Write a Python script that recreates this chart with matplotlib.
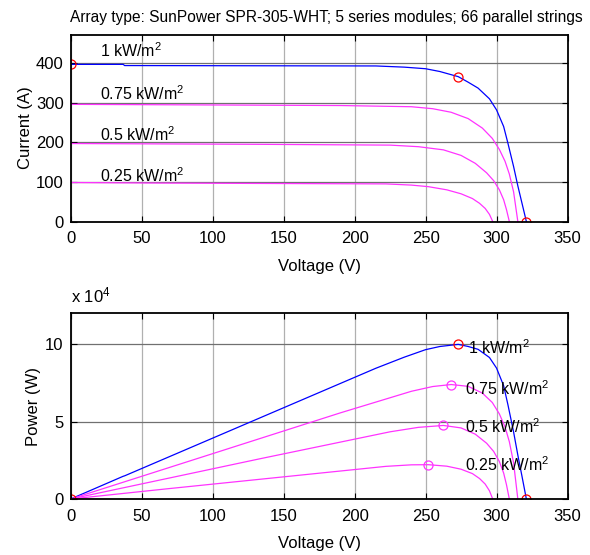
import numpy as np
import matplotlib
matplotlib.use("Agg")
import matplotlib.pyplot as plt

# I-V data (voltage in V, current in A)
v_100 = [0, 37, 38, 215, 235, 250, 260, 273, 280, 287, 295, 300, 305, 308, 312, 315, 318, 321]
i_100 = [397, 397, 394, 393, 390, 386, 379, 366, 352, 337, 310, 282, 240, 198, 139, 90, 45, 0]

v_075 = [0, 190, 240, 255, 268, 280, 290, 297, 302, 306, 309, 312, 315]
i_075 = [296, 293, 290, 285, 276, 260, 236, 210, 182, 152, 120, 75, 0]

v_050 = [0, 133, 225, 245, 262.6, 275, 285, 293, 298, 302, 305, 307, 309]
i_050 = [197, 195, 193, 189, 181, 167, 147, 123, 103, 80, 55, 30, 0]

v_025 = [0, 68, 222, 240, 252, 265, 275, 283, 288, 292, 295, 297.3]
i_025 = [98.5, 97, 95, 92, 88, 80, 70, 58, 46, 33, 18, 0]

labels = ["1 kW/m$^2$", "0.75 kW/m$^2$", "0.5 kW/m$^2$", "0.25 kW/m$^2$"]

# maximum power points (V, I), short circuit current and open circuit voltage (1 kW/m2)
mpp_v = [273, 268, 262.6, 252]
mpp_i = [366, 276, 181, 88]
voc_1kw = 321
isc_1kw = 397

# label anchors
iv_label_v = [20.5, 20.5, 20.5, 20.5]
iv_label_i = [431, 323, 219, 115]
pv_label_v = [280, 278, 278, 278]
pv_label_p = [0.98e5, 0.715e5, 0.466e5, 0.219e5]

plt.rcParams['font.family'] = ['Liberation Sans', 'DejaVu Sans']
plt.rcParams['mathtext.default'] = 'regular'
plt.rcParams['font.size'] = 12

BLUE = "#0000ff"
MAG = "#ff33ff"

fig = plt.figure(figsize=(5.9, 5.55), dpi=100)
ax1 = fig.add_axes([0.1198, 0.6009, 0.8421, 0.3366])
ax2 = fig.add_axes([0.1198, 0.1009, 0.8421, 0.3346])

curves = [(v_100, i_100, BLUE), (v_075, i_075, MAG), (v_050, i_050, MAG), (v_025, i_025, MAG)]

for v, i, c in curves:
    ax1.plot(v, i, color=c, lw=0.9)
    ax2.plot(v, np.array(v) * np.array(i), color=c, lw=0.9)

circ = dict(ls="none", marker="o", mfc="none", ms=6.5, mew=0.9)
ax1.plot([0, mpp_v[0], voc_1kw], [isc_1kw, mpp_i[0], 0], mec="red", **circ)
ax2.plot([0, mpp_v[0], voc_1kw], [0, mpp_v[0] * mpp_i[0], 0], mec="red", **circ)
ax2.plot(mpp_v[1:], np.array(mpp_v[1:]) * np.array(mpp_i[1:]), mec=MAG, **circ)

for k in range(4):
    ax1.text(iv_label_v[k], iv_label_i[k], labels[k], fontsize=11.5, va="center", ha="left")
    ax2.text(pv_label_v[k], pv_label_p[k], labels[k], fontsize=11.5, va="center", ha="left")

for ax in (ax1, ax2):
    ax.set_xlim(0, 350)
    ax.set_xticks(np.arange(0, 351, 50))
    ax.set_xlabel("Voltage (V)", labelpad=9)
    ax.tick_params(direction="in", top=True, right=True, length=4, width=0.8)
    ax.tick_params(axis="x", pad=7)
    ax.tick_params(axis="y", pad=5)
    ax.xaxis.grid(True, color="#b0b0b0", lw=0.9)
    ax.yaxis.grid(True, color="#707070", lw=0.9)
    ax.set_axisbelow(True)
    for s in ax.spines.values():
        s.set_linewidth(1.3)

ax1.set_ylim(0, 472)
ax1.set_yticks([0, 100, 200, 300, 400])
ax1.set_ylabel("Current (A)", labelpad=2)
fig.text(0.5525, 0.969,
         "Array type: SunPower SPR-305-WHT; 5 series modules; 66 parallel strings",
         fontsize=11.2, ha="center", va="center")

ax2.set_ylim(0, 1.2e5)
ax2.set_yticks([0, 5e4, 1e5])
ax2.set_yticklabels(["0", "5", "10"])
ax2.set_ylabel("Power (W)", labelpad=3)
ax2.text(0.0, 1.04, "x 10$^4$", transform=ax2.transAxes, fontsize=12, ha="left", va="bottom")

fig.savefig("out.png", dpi=100)
